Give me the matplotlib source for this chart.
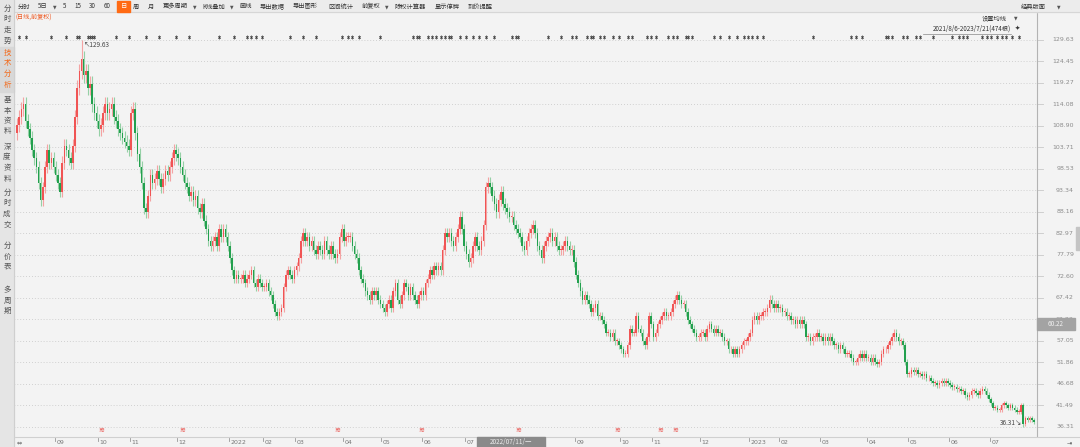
import numpy as np
import matplotlib.pyplot as plt
from matplotlib.patches import Rectangle
from matplotlib.lines import Line2D
from matplotlib import transforms

plt.rcParams['font.family'] = ['Noto Sans CJK SC', 'DejaVu Sans']

# 日线收盘价 (前复权), 按月
aug21 = [109, 111, 113, 114, 110, 108, 106, 103, 101, 99, 95, 91, 94, 99, 103, 100, 101, 99]
sep21 = [97, 95, 93, 100, 104, 103, 101, 100, 104, 111, 118, 122, 125, 121, 122, 118, 119, 114, 112, 110]
oct21 = [108, 109, 112, 114, 112, 113, 114, 111, 110, 108, 107, 106, 105, 104, 103]
nov21 = [112, 113, 107, 102, 99, 95, 89, 88, 92, 97, 95, 96, 98, 96, 94, 96, 98, 97, 99, 101, 103, 102]
dec21 = [101, 99, 97, 95, 94, 92, 93, 91, 92, 89, 88, 90, 86, 84, 81, 80, 81, 82, 80, 84, 82, 84, 82, 80]
jan22 = [77, 74, 72, 73, 72, 72, 73, 71, 72, 73, 74, 71, 70, 72, 71, 70]
feb22 = [70, 71, 69, 68, 66, 64, 63, 64, 65, 70, 73, 74, 73, 72, 74]
mar22 = [75, 77, 81, 83, 81, 82, 80, 81, 79, 78, 80, 79, 78, 81, 79, 78, 80, 78, 77, 78, 82, 84]
apr22 = [81, 82, 82, 82, 80, 78, 77, 74, 72, 71, 69, 68, 67, 69, 68, 69, 67, 66]
may22 = [65, 64, 66, 67, 65, 69, 71, 67, 66, 68, 71, 70, 68, 70, 68, 67, 66, 68, 69]
jun22 = [68, 71, 72, 74, 73, 75, 74, 75, 74, 79, 83, 82, 83, 81, 80, 82, 84, 87, 84, 80]
jul22 = [78, 76, 77, 80, 82, 80, 79, 81, 85, 94, 95, 94, 92, 90, 88, 91, 93, 90, 89, 88, 87, 87]
aug22 = [85, 84, 83, 82, 80, 79, 81, 83, 84, 85, 83, 80, 79, 77, 80, 81, 82, 83, 81, 82, 80, 79, 79, 80, 81, 80, 79, 79, 76]
sep22 = [73, 71, 69, 67, 68, 67, 66, 64, 65, 66, 63, 63, 62, 61, 59, 59, 58, 59, 57, 57, 56]
oct22 = [55, 54, 54, 56, 60, 59, 59, 63, 60, 59, 57, 56, 58, 63, 61]
nov22 = [58, 59, 61, 62, 63, 64, 63, 63, 64, 66, 67, 68, 67, 66, 66, 64, 62, 61, 60, 59, 58, 58]
dec22 = [59, 59, 58, 60, 61, 60, 59, 60, 59, 59, 58, 57, 57, 55, 55, 54, 55, 54, 55, 56, 57, 57, 58]
jan23 = [59, 62, 63, 62, 63, 63, 64, 64, 65, 67, 66, 65, 66, 65]
feb23 = [65, 64, 64, 63, 63, 62, 62, 61, 62, 61, 62, 61, 58, 58, 57, 58, 58, 59, 58]
mar23 = [58, 57, 58, 57, 58, 57, 56, 56, 55, 56, 55, 54, 54, 54, 53, 52, 52, 53, 54, 53, 54, 53]
apr23 = [53, 52, 53, 52, 51.5, 52, 54, 55, 55, 56, 57, 58, 59, 58, 57, 57, 56, 52, 49]
may23 = [49, 50, 49.5, 50, 49, 49, 48.5, 49, 48, 48, 47.5, 47, 47, 46.5, 47, 47.5, 47, 47.5, 47]
jun23 = [46.5, 46, 46, 45.5, 45.5, 45, 45, 44, 43.5, 44, 45, 45, 44.5, 44, 45, 45.5, 45, 44, 43]
jul23 = [42, 41, 41, 40.5, 40.5, 41.5, 42, 41.5, 41, 41.5, 41, 40.5, 40, 40, 41.5, 37, 38.5, 38, 38.5, 38, 37.5]

months = [aug21, sep21, oct21, nov21, dec21, jan22, feb22, mar22, apr22, may22, jun22, jul22,
          aug22, sep22, oct22, nov22, dec22, jan23, feb23, mar23, apr23, may23, jun23, jul23]
# '' = 被光标日期框遮住
month_labels = ['08', '09', '10', '11', '12', '2022', '02', '03', '04', '05', '06', '07',
                '', '09', '10', '11', '12', '2023', '02', '03', '04', '05', '06', '07']

price_ticks = [129.63, 124.45, 119.27, 114.08, 108.90, 103.71, 98.53, 93.34, 88.16, 82.97,
               77.79, 72.60, 67.42, 62.23, 57.05, 51.86, 46.68, 41.49, 36.31]
peak_high = 129.63
trough_low = 36.31
last_price = '60.22'

# 信息地雷 / 分红 标记 (K线序号)
info_days = [1, 4, 16, 23, 28, 29, 33, 34, 35, 36, 46, 52, 60, 66, 74, 80, 94, 101, 107, 109, 111,
             114, 127, 133, 139, 151, 154, 156, 159, 169, 184, 186, 187, 191, 193, 195, 197, 199,
             201, 202, 206, 209, 212, 215, 218, 222, 230, 232, 233, 247, 253, 258, 260, 265, 267,
             268, 271, 273, 277, 280, 284, 286, 293, 295, 297, 303, 305, 307, 311, 312, 314, 324,
             327, 331, 335, 338, 340, 342, 344, 347, 370, 388, 390, 393, 404, 405, 407, 412, 414,
             418, 420, 426, 435, 438, 440, 442, 449, 451, 453, 456, 458, 460, 463, 466]
div_days = [39, 77, 149, 188, 233, 279, 299, 306]

close = np.array(sum(months, []), dtype=float)
open_ = np.r_[107.0, close[:-1]]
hi = np.maximum(open_, close) * 1.015
lo = np.minimum(open_, close) * 0.985
i_pk = hi.argmax()
i_tr = lo.argmin()
hi[i_pk] = peak_high
lo[i_tr] = trough_low
idx = np.arange(len(close))

W, H = 1080, 447
fig = plt.figure(figsize=(W / 100, H / 100), dpi=100, facecolor='#f3f3f3')


def fx(x):
    return x / W


def fy(y):
    return 1 - y / H


ax = fig.add_axes([fx(14), fy(436), fx(1037) - fx(14), fy(13) - fy(436)])
ax.set_facecolor('#f3f3f3')
k = (427 - 39.5) / (129.63 - 36.31)
ax.set_ylim(36.31 - (436 - 427) / k, 129.63 + (39.5 - 13) / k)
ax.set_xlim((14 - 17) / 2.15, (1037 - 17) / 2.15)
for s in ax.spines.values():
    s.set_visible(False)
ax.set_xticks([])
ax.set_yticks([])

for t in price_ticks:
    ax.axhline(t, ls=(0, (1, 2.5)), lw=0.6, color='#c4c4c4', zorder=0)

# K线
up = close >= open_
ax.vlines(idx, lo, hi, colors=np.where(up, '#f4a3a3', '#95d0a6'), lw=0.8, zorder=2)
ax.bar(idx, np.maximum(np.abs(close - open_), 0.2), bottom=np.minimum(open_, close), width=0.72,
       color=np.where(up, '#f05454', '#22a04e'), lw=0, zorder=3)

ax.text(i_pk + 1.2, hi[i_pk] - 0.3, '↖129.63', fontsize=4.6, color='#444', va='top', ha='left')
ax.text(i_tr - 0.6, lo[i_tr] + 0.1, '36.31↘', fontsize=4.6, color='#444', va='bottom', ha='right')

bl = transforms.blended_transform_factory(ax.transData, fig.transFigure)
ax.plot(info_days, [fy(37)] * len(info_days), ls='none', marker='x', ms=1.7, mew=0.6,
        color='#3a3a3a', transform=bl, clip_on=False, zorder=5)
ax.plot(info_days, [fy(37)] * len(info_days), ls='none', marker='|', ms=2.6, mew=0.5,
        color='#3a3a3a', transform=bl, clip_on=False, zorder=5)
for d in div_days:
    ax.text(d, fy(430), '≋', transform=bl, fontsize=5, color='#e8413c', ha='center', va='center',
            family=['DejaVu Sans'])

# 右侧价格刻度
for t in price_ticks:
    yy = 39.5 + (129.63 - t) * k
    fig.add_artist(Line2D([fx(1037), fx(1043)], [fy(yy), fy(yy)], color='#c8c8c8', lw=0.6))
    fig.text(fx(1074), fy(yy), f'{t:.2f}', fontsize=4.5, color='#8c8c8c', ha='right', va='center',
             family=['DejaVu Sans'])
fig.add_artist(Rectangle((fx(1037), fy(330)), fx(1075) - fx(1037), fy(318) - fy(330),
                         transform=fig.transFigure, color='#a3a3a3', zorder=6))
fig.text(fx(1056), fy(324), last_price, fontsize=4.6, color='#f0f0f0', ha='center', va='center', zorder=7)
fig.add_artist(Rectangle((fx(1076), fy(250)), fx(4), fy(227) - fy(250),
                         transform=fig.transFigure, color='#c4c4c4'))

# 边框
fig.add_artist(Line2D([fx(1037), fx(1037)], [fy(13), fy(436)], color='#b3b3b3', lw=0.8))
fig.add_artist(Line2D([fx(14), fx(1080)], [fy(436.5), fy(436.5)], color='#d0d0d0', lw=0.8))

# 时间轴
starts = np.cumsum([0] + [len(m) for m in months[:-1]])
for s, lab in zip(starts[1:], month_labels[1:]):
    if not lab:
        continue
    ax.plot([s - 0.5, s - 0.5], [fy(437.5), fy(440.5)], color='#999', lw=0.6, transform=bl, clip_on=False)
    ax.text(s + 0.2, fy(442.5), lab, transform=bl, fontsize=4.5, color='#777', ha='left', va='center',
            family=['DejaVu Sans'])
fig.text(fx(17), fy(442.5), '⇔', fontsize=4.5, color='#555', ha='left', va='center', family=['DejaVu Sans'])
fig.text(fx(1069), fy(442.5), '⇥', fontsize=4.5, color='#555', ha='center', va='center', family=['DejaVu Sans'])
fig.add_artist(Rectangle((fx(477), fy(447)), fx(545) - fx(477), fy(437) - fy(447),
                         transform=fig.transFigure, color='#8a8a8a', zorder=6))
fig.text(fx(511), fy(442.3), '2022/07/11/一', fontsize=4.6, color='#ececec', ha='center', va='center', zorder=7)

# 顶部工具栏
fig.add_artist(Rectangle((fx(14), fy(12)), fx(1066), fy(0) - fy(12), transform=fig.transFigure,
                         color='#ececec', zorder=4))
fig.add_artist(Line2D([fx(14), fx(1080)], [fy(12), fy(12)], color='#d6d6d6', lw=0.8, zorder=5))
tools = [(18, '分时'), (38, '5日'), (63, '5'), (74, '15'), (89, '30'), (104, '60'), (133, '周'),
         (148, '月'), (163, '更多周期'), (202, 'K线叠加'), (239, '画线'), (260, '导出数据'),
         (293, '导出图形'), (328, '区间统计'), (362, '前复权'), (395, '除权计算器'),
         (435, '显示停牌'), (468, '到价提醒'), (1021, '经典版面')]
for x0, s in tools:
    fig.text(fx(x0), fy(6.5), s, fontsize=4.5, color='#333', ha='left', va='center', zorder=6)
for x0 in [55, 195, 232, 387, 1059]:
    fig.text(fx(x0), fy(6.5), '▼', fontsize=3.3, color='#555', ha='center', va='center', zorder=6,
             family=['DejaVu Sans'])
fig.add_artist(Rectangle((fx(117), fy(12)), fx(13), fy(1) - fy(12), transform=fig.transFigure,
                         color='#ff6a13', zorder=5))
fig.text(fx(123.5), fy(6.5), '日', fontsize=4.5, color='white', ha='center', va='center', zorder=6)

fig.text(fx(15), fy(17.5), '(日线,前复权)', fontsize=4.4, color='#ee5a24', ha='left', va='center')
fig.text(fx(1007), fy(18), '设置均线', fontsize=4.5, color='#333', ha='right', va='center')
fig.text(fx(1016), fy(18), '▼', fontsize=3.3, color='#555', ha='center', va='center', family=['DejaVu Sans'])
fig.text(fx(1011), fy(29), '2021/8/6-2023/7/21(474根)', fontsize=4.5, color='#333', ha='right', va='center')
fig.add_artist(Line2D([fx(923), fx(1011)], [fy(33.5), fy(33.5)], color='#888', lw=0.5))
fig.text(fx(1017), fy(28.5), '✦', fontsize=4.5, color='#333', ha='center', va='center', family=['DejaVu Sans'])

# 左侧导航
fig.add_artist(Rectangle((0, 0), fx(14), 1, transform=fig.transFigure, color='#e5e5e5', zorder=4))
fig.add_artist(Rectangle((0, fy(92)), fx(13.5), fy(47) - fy(92), transform=fig.transFigure,
                         color='#d8d8d8', zorder=4))
fig.add_artist(Line2D([fx(14), fx(14)], [0, 1], color='#cfcfcf', lw=0.8, zorder=5))
side = [('分时走势', 9, '#555'), ('技术分析', 53, '#f26a1b'), ('基本资料', 100, '#555'),
        ('深度资料', 147, '#555'), ('分时成交', 193, '#555'), ('分价表', 246, '#555'), ('多周期', 290, '#555')]
for word, y0, c in side:
    for j, ch in enumerate(word):
        fig.text(fx(7), fy(y0 + j * 10.5), ch, fontsize=5.4, color=c, ha='center', va='center', zorder=6)

fig.savefig('out.png', dpi=100, facecolor=fig.get_facecolor())
